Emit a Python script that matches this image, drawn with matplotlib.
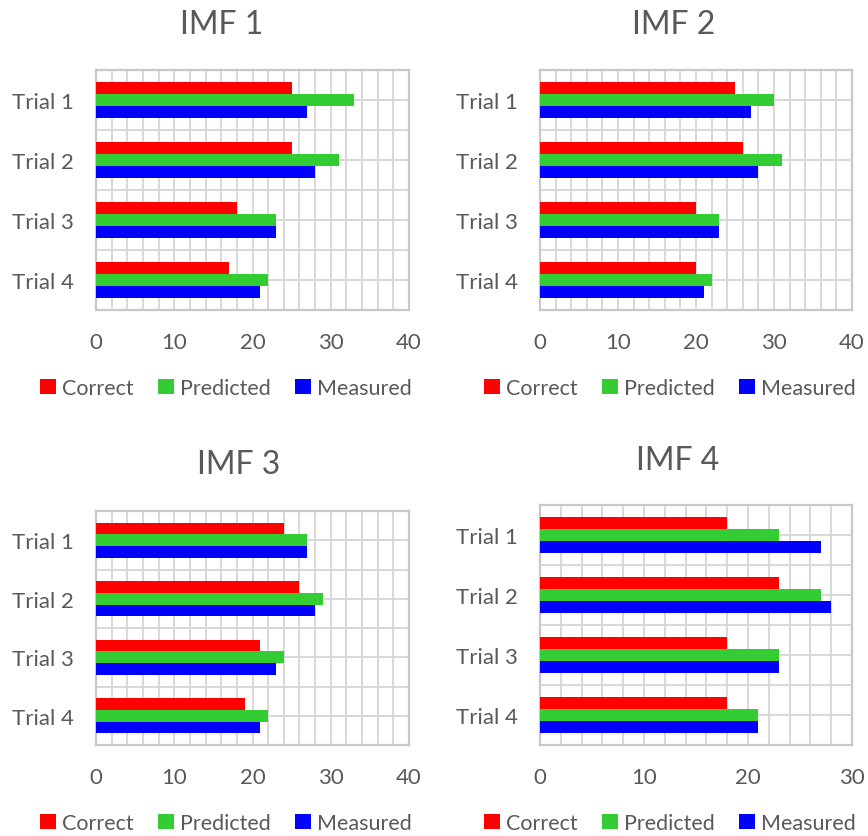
import matplotlib
matplotlib.use('Agg')
import matplotlib.pyplot as plt
from matplotlib.patches import Patch
import numpy as np

# Data
trials = ['Trial 1', 'Trial 2', 'Trial 3', 'Trial 4']
series = ['Correct', 'Predicted', 'Measured']
colors = ['#ff0000', '#33cc33', '#0000ff']

imf1_correct = [25, 25, 18, 17]
imf1_predicted = [33, 31, 23, 22]
imf1_measured = [27, 28, 23, 21]

imf2_correct = [25, 26, 20, 20]
imf2_predicted = [30, 31, 23, 22]
imf2_measured = [27, 28, 23, 21]

imf3_correct = [24, 26, 21, 19]
imf3_predicted = [27, 29, 24, 22]
imf3_measured = [27, 28, 23, 21]

imf4_correct = [18, 23, 18, 18]
imf4_predicted = [23, 27, 23, 21]
imf4_measured = [27, 28, 23, 21]

W, H = 868, 837
plt.rcParams['font.family'] = ['Lato', 'DejaVu Sans']
text_col = '#595959'
grid_col = '#d6d6d6'

fig = plt.figure(figsize=(W / 100, H / 100), dpi=100)


def px(left, top, right, bottom):
    return [left / W, 1 - bottom / H, (right - left) / W, (bottom - top) / H]


panels = [
    ('IMF 1', [imf1_correct, imf1_predicted, imf1_measured], 40,
     px(96, 71, 409, 311), (222, 25), (226, 389)),
    ('IMF 2', [imf2_correct, imf2_predicted, imf2_measured], 40,
     px(540, 71, 852, 311), (674, 25), (670, 389)),
    ('IMF 3', [imf3_correct, imf3_predicted, imf3_measured], 40,
     px(96, 512, 409, 746), (239, 465), (226, 824)),
    ('IMF 4', [imf4_correct, imf4_predicted, imf4_measured], 30,
     px(540, 506, 852, 746), (678, 461), (670, 824)),
]

y = np.arange(len(trials))[::-1]
h = 0.2

for title, vals, xmax, rect, tpos, lpos in panels:
    ax = fig.add_axes(rect)
    for i, (v, c) in enumerate(zip(vals, colors)):
        ax.barh(y + h * (1 - i), v, height=h, color=c, zorder=3)
    ax.set_xlim(0, xmax)
    ax.set_ylim(-0.5, len(trials) - 0.5)
    ax.set_xticks(np.arange(0, xmax + 1, 10))
    ax.set_xticks(np.arange(0, xmax + 1, 2), minor=True)
    ax.set_yticks(y)
    ax.set_yticklabels(trials)
    ax.set_yticks(np.arange(-0.5, len(trials), 0.5), minor=True)
    ax.grid(True, which='both', color=grid_col, linewidth=1.3, zorder=0)
    ax.tick_params(which='both', length=0)
    ax.tick_params(axis='x', pad=16, labelsize=16, labelcolor=text_col)
    ax.tick_params(axis='y', pad=16, labelsize=16, labelcolor=text_col)
    for s in ax.spines.values():
        s.set_color('#c8c8c8')
        s.set_linewidth(1.6)
    fig.text(tpos[0] / W, 1 - tpos[1] / H, title, ha='center', va='center',
             fontsize=23, color=text_col)
    handles = [Patch(facecolor=c, label=s) for s, c in zip(series, colors)]
    ax.legend(handles=handles, loc='center', ncol=3, frameon=False,
              bbox_to_anchor=(lpos[0] / W, 1 - lpos[1] / H),
              bbox_transform=fig.transFigure, fontsize=15.5,
              labelcolor=text_col, handlelength=0.75, handleheight=0.75,
              handletextpad=0.3, columnspacing=1.1)

fig.savefig('out.png', dpi=100)
